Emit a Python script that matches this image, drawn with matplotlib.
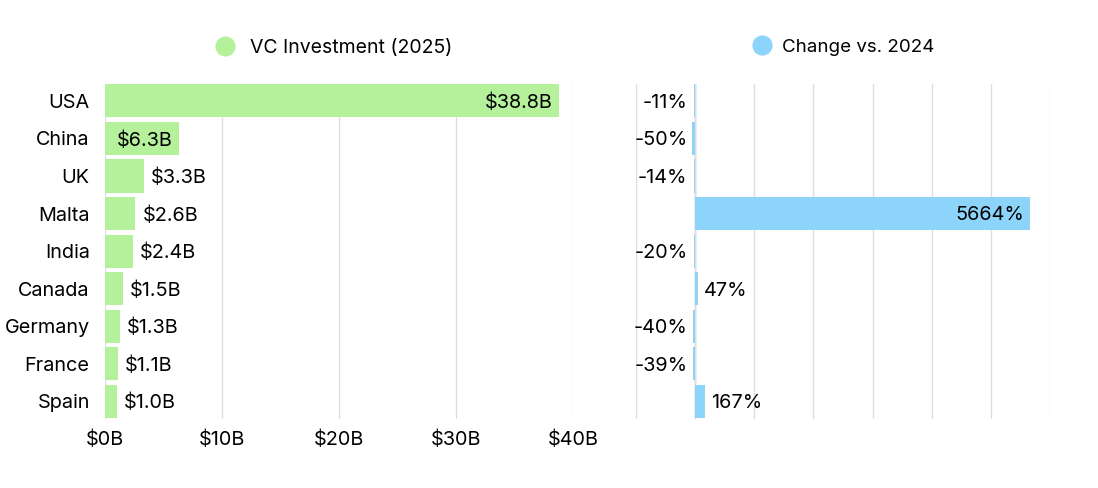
import matplotlib.pyplot as plt
from matplotlib.lines import Line2D

plt.rcParams['font.family'] = ['Inter', 'DejaVu Sans']

countries = ['USA', 'China', 'UK', 'Malta', 'India', 'Canada', 'Germany', 'France', 'Spain']
invest = [38.8, 6.3, 3.3, 2.6, 2.4, 1.5, 1.3, 1.1, 1.0]
change = [-11, -50, -14, 5664, -20, 47, -40, -39, 167]
xticks_left = [0, 10, 20, 30, 40]
xticks_right = [-1000, 0, 1000, 2000, 3000, 4000, 5000, 6000]

green = '#b5f09b'
blue = '#8dd4fa'
grid = '#dedede'
fs = 14.3

fig = plt.figure(figsize=(10.98, 4.88), dpi=100)
ax1 = fig.add_axes([105 / 1098, 1 - 419 / 488, 468 / 1098, 335 / 488])
ax2 = fig.add_axes([636 / 1098, 1 - 419 / 488, 414 / 1098, 335 / 488])

ypos = list(range(len(countries)))

# left panel
ax1.barh(ypos, invest, height=0.88, color=green, zorder=2)
ax1.set_xlim(0, 40)
ax1.set_ylim(8.47, -0.45)
ax1.set_xticks(xticks_left)
ax1.set_xticklabels(['$%dB' % t for t in xticks_left], fontsize=fs)
ax1.set_yticks(ypos)
ax1.set_yticklabels(countries, fontsize=fs)
ax1.tick_params(length=0, pad=11)
ax1.tick_params(axis='x', pad=8)
ax1.grid(axis='x', color=grid, linewidth=1, zorder=0)
for s in ax1.spines.values():
    s.set_visible(False)
for y, v in zip(ypos, invest):
    lab = '$%.1fB' % v
    if v > 5:
        ax1.text(v - 0.55, y + 0.05, lab, ha='right', va='center', fontsize=fs, zorder=3)
    else:
        ax1.text(v + 0.6, y + 0.05, lab, ha='left', va='center', fontsize=fs, zorder=3)

# right panel
ax2.barh(ypos, change, height=0.88, color=blue, zorder=2)
ax2.set_xlim(-1000, 6000)
ax2.set_ylim(8.47, -0.45)
ax2.set_xticks(xticks_right)
ax2.set_xticklabels([])
ax2.set_yticks([])
ax2.tick_params(length=0)
ax2.grid(axis='x', color=grid, linewidth=1, zorder=0)
ax2.axvline(0, color='#a8b4bc', linewidth=1, zorder=1)
for s in ax2.spines.values():
    s.set_visible(False)
for y, v in zip(ypos, change):
    lab = '%d%%' % v
    if v > 1000:
        ax2.text(v - 100, y + 0.05, lab, ha='right', va='center', fontsize=fs, zorder=3)
    elif v >= 0:
        ax2.text(v + 100, y + 0.05, lab, ha='left', va='center', fontsize=fs, zorder=3)
    else:
        ax2.text(min(v, -50) - 80, y + 0.05, lab, ha='right', va='center', fontsize=fs, zorder=3)

# legends
h1 = [Line2D([], [], marker='o', linestyle='', markersize=13.5, color=green)]
fig.legend(h1, ['VC Investment (2025)'], loc='center', bbox_to_anchor=(329 / 1098, 1 - 48 / 488),
           frameon=False, fontsize=14, handletextpad=0.25)
h2 = [Line2D([], [], marker='o', linestyle='', markersize=13.5, color=blue)]
fig.legend(h2, ['Change vs. 2024'], loc='center', bbox_to_anchor=(839 / 1098, 1 - 47 / 488),
           frameon=False, fontsize=13.5, handletextpad=0.1)

fig.savefig('out.png', dpi=100)
